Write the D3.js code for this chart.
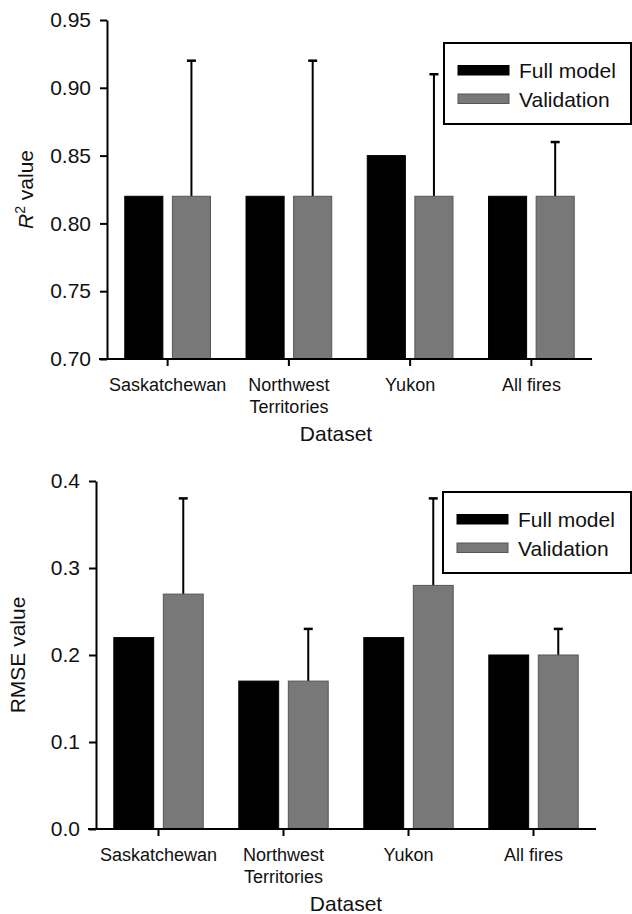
<!DOCTYPE html>
<html>
<head>
<meta charset="utf-8">
<script src="https://cdn.jsdelivr.net/npm/d3@7"></script>
<style>
  body { margin: 0; background: #fff; }
  svg { display: block; font-family: "Liberation Sans", Arial, sans-serif; }
</style>
</head>
<body>
<script>
// data
const categories = ["Saskatchewan", "Northwest Territories", "Yukon", "All fires"];
const categoryLabels = ["Saskatchewan", "Northwest\nTerritories", "Yukon", "All fires"];
const series = ["Full model", "Validation"];

const r2Full = [0.82, 0.82, 0.85, 0.82];
const r2Validation = [0.82, 0.82, 0.82, 0.82];
const r2ValidationUpper = [0.92, 0.92, 0.91, 0.86];
const r2Ticks = [0.70, 0.75, 0.80, 0.85, 0.90, 0.95];

const rmseFull = [0.22, 0.17, 0.22, 0.20];
const rmseValidation = [0.27, 0.17, 0.28, 0.20];
const rmseValidationUpper = [0.38, 0.23, 0.38, 0.23];
const rmseTicks = [0.0, 0.1, 0.2, 0.3, 0.4];

const width = 632;
const height = 914;
const colors = { "Full model": "#000", "Validation": "#787878" };
const outlines = { "Full model": "#000", "Validation": "#555" };

const svg = d3.select("body")
    .append("svg")
    .attr("width", width)
    .attr("height", height);

const panels = [
    {
        full: r2Full, val: r2Validation, upper: r2ValidationUpper,
        ticks: r2Ticks, fmt: d3.format(".2f"), domain: [0.70, 0.95],
        top: 20, bottom: 359, left: 107, right: 592, groupW: 85.7, pad: 0.2,
        ylabelX: 33, titleX: 336, titleY: 441, rLabel: true,
        legend: { x: 444, y: 43, w: 188, h: 81 }
    },
    {
        full: rmseFull, val: rmseValidation, upper: rmseValidationUpper,
        ticks: rmseTicks, fmt: d3.format(".1f"), domain: [0, 0.4],
        top: 481, bottom: 829, left: 96, right: 596, groupW: 89.4, pad: 0.195,
        ylabelX: 25, titleX: 346, titleY: 911, rLabel: false,
        legend: { x: 443, y: 492, w: 189, h: 81 }
    }
];

panels.forEach((p) => {
    const g = svg.append("g");

    const x0 = d3.scaleBand().domain(categories).range([p.left, p.right]);
    const x1 = d3.scaleBand().domain(series)
        .range([x0.bandwidth() / 2 - p.groupW / 2, x0.bandwidth() / 2 + p.groupW / 2])
        .paddingInner(p.pad);
    const y = d3.scaleLinear().domain(p.domain).range([p.bottom, p.top]);

    const rows = categories.map((c, i) => ({
        cat: c, values: [
            { s: "Full model", v: p.full[i] },
            { s: "Validation", v: p.val[i], up: p.upper[i] }
        ]
    }));

    // error bars (drawn under the bars so they start at the bar top)
    rows.forEach((r) => {
        const d = r.values[1];
        const cx = x0(r.cat) + x1(d.s) + x1.bandwidth() / 2;
        g.append("line")
            .attr("x1", cx).attr("x2", cx)
            .attr("y1", y(d.v)).attr("y2", y(d.up))
            .attr("stroke", "#000").attr("stroke-width", 2);
        g.append("line")
            .attr("x1", cx - 4.5).attr("x2", cx + 4.5)
            .attr("y1", y(d.up)).attr("y2", y(d.up))
            .attr("stroke", "#000").attr("stroke-width", 2.5);
    });

    // bars
    g.selectAll(".grp")
        .data(rows)
        .enter().append("g")
        .attr("transform", (d) => `translate(${x0(d.cat)},0)`)
        .selectAll("rect")
        .data((d) => d.values)
        .enter().append("rect")
        .attr("x", (d) => x1(d.s))
        .attr("y", (d) => y(d.v))
        .attr("width", x1.bandwidth())
        .attr("height", (d) => y(p.domain[0]) - y(d.v))
        .attr("fill", (d) => colors[d.s])
        .attr("stroke", (d) => outlines[d.s])
        .attr("stroke-width", 1);

    // y axis
    const yAxis = g.append("g")
        .attr("transform", `translate(${p.left},0)`)
        .call(d3.axisLeft(y).tickValues(p.ticks).tickFormat(p.fmt)
            .tickSize(7).tickSizeOuter(0).tickPadding(9));
    yAxis.selectAll("path, line").attr("stroke", "#000").attr("stroke-width", 2);
    yAxis.selectAll("text").attr("font-size", 21).attr("fill", "#111")
        .attr("font-family", "'Liberation Sans', Arial, sans-serif");

    // x axis
    const xAxis = g.append("g")
        .attr("transform", `translate(0,${p.bottom})`)
        .call(d3.axisBottom(x0).tickSize(7).tickSizeOuter(0).tickFormat(""));
    xAxis.select("path").attr("d", `M${p.left - 8},0H${p.right}`);
    xAxis.selectAll("path, line").attr("stroke", "#000").attr("stroke-width", 2);

    categories.forEach((c, i) => {
        const t = g.append("text")
            .attr("text-anchor", "middle")
            .attr("font-size", 18)
            .attr("fill", "#111")
            .attr("transform", `translate(${x0(c) + x0.bandwidth() / 2},${p.bottom + 31.5})`);
        categoryLabels[i].split("\n").forEach((line, k) => {
            t.append("tspan").attr("x", 0).attr("y", k * 22).text(line);
        });
    });

    // axis titles
    g.append("text")
        .attr("x", p.titleX).attr("y", p.titleY)
        .attr("text-anchor", "middle")
        .attr("font-size", 21).attr("fill", "#111")
        .text("Dataset");

    const yl = g.append("text")
        .attr("transform", `translate(${p.ylabelX},${(p.top + p.bottom) / 2}) rotate(-90)`)
        .attr("text-anchor", "middle")
        .attr("font-size", 21).attr("fill", "#111");
    if (p.rLabel) {
        yl.append("tspan").attr("font-style", "italic").text("R");
        yl.append("tspan").attr("font-size", 14).attr("dy", -8).text("2");
        yl.append("tspan").attr("dy", 8).text(" value");
    } else {
        yl.text("RMSE value");
    }

    // legend
    const L = p.legend;
    const lg = g.append("g").attr("transform", `translate(${L.x},${L.y})`);
    lg.append("rect")
        .attr("x", 0).attr("y", 0).attr("width", L.w - 1).attr("height", L.h)
        .attr("fill", "#fff").attr("stroke", "#000").attr("stroke-width", 2);
    series.forEach((s, i) => {
        lg.append("rect")
            .attr("x", 14).attr("y", 22.5 + i * 28.5)
            .attr("width", 51).attr("height", 9.5)
            .attr("fill", colors[s]).attr("stroke", outlines[s]).attr("stroke-width", 1);
        lg.append("text")
            .attr("x", 75).attr("y", 35 + i * 28.5)
            .attr("font-size", 21).attr("fill", "#111")
            .text(s);
    });
});
</script>
</body>
</html>
